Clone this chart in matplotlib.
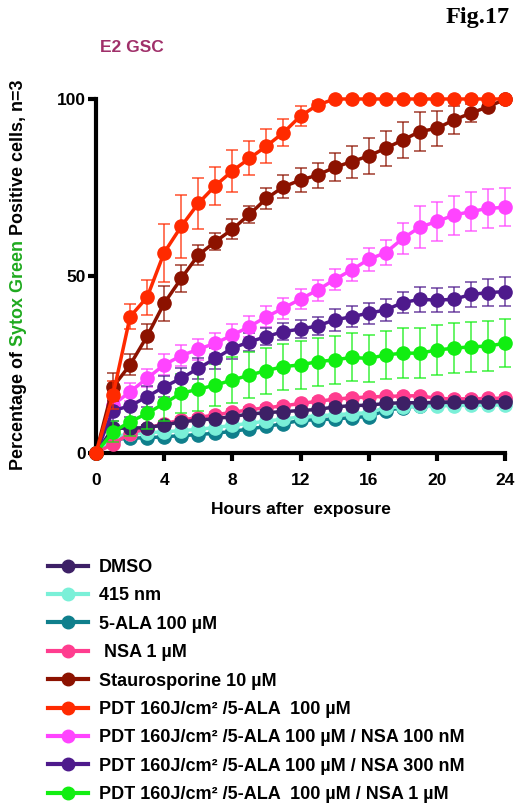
import matplotlib
matplotlib.use("Agg")
import matplotlib.pyplot as plt
from matplotlib.lines import Line2D

plt.rcParams['font.family'] = ['Liberation Sans', 'DejaVu Sans']
plt.rcParams['font.weight'] = 'bold'

hours = list(range(25))

labels = ['DMSO', '415 nm', '5-ALA 100 µM', ' NSA 1 µM', 'Staurosporine 10 µM',
          'PDT 160J/cm² /5-ALA  100 µM',
          'PDT 160J/cm² /5-ALA 100 µM / NSA 100 nM',
          'PDT 160J/cm² /5-ALA 100 µM / NSA 300 nM',
          'PDT 160J/cm² /5-ALA  100 µM / NSA 1 µM']
colors = ['#3d2066', '#7af0d8', '#0f7f8c', '#ff3d8f', '#8c1200',
          '#ff2a00', '#ff44ff', '#4e1a8c', '#11ee11']

dmso = [0, 7.0, 7.0, 7.2, 7.9, 8.8, 9.3, 9.7, 10.3, 11.0, 11.4, 11.7, 12.0,
        12.3, 13.0, 13.4, 13.5, 14.0, 14.2, 14.2, 14.3, 14.3, 14.4, 14.4, 14.5]
nm415 = [0, 4.6, 5.4, 5.7, 6.0, 6.3, 6.7, 7.2, 7.8, 8.4, 9.0, 9.6, 10.2,
         10.5, 10.8, 11.1, 11.4, 12.8, 13.0, 13.2, 13.3, 13.4, 13.5, 13.5, 13.6]
ala = [0, 3.8, 4.2, 4.3, 4.6, 4.9, 5.2, 5.6, 6.1, 6.8, 7.5, 8.3, 9.2,
       9.4, 9.6, 10.0, 10.3, 12.0, 12.8, 13.4, 14.2, 14.6, 14.8, 14.8, 14.9]
nsa = [0, 2.6, 5.5, 7.0, 8.3, 9.3, 10.0, 10.8, 11.5, 12.2, 12.8, 13.3, 14.0,
       14.6, 15.2, 15.6, 15.8, 16.0, 16.1, 16.2, 15.4, 15.3, 15.3, 15.4, 15.5]
stauro = [0, 18.7, 24.9, 33.0, 42.3, 49.3, 55.9, 59.7, 63.2, 67.4, 71.9, 75.2, 77.1,
          78.5, 80.7, 82.3, 83.9, 86.1, 88.4, 90.8, 91.7, 94.1, 96.0, 97.8, 99.9]
pdt = [0, 16.4, 38.5, 44.0, 56.6, 64.0, 70.5, 75.5, 79.7, 83.2, 86.7, 90.5, 95.2,
       98.3, 100, 100, 100, 100, 100, 100, 100, 100, 100, 100, 100]
pdt_nsa100 = [0, 13.6, 17.3, 21.1, 24.9, 27.5, 29.3, 31.0, 33.3, 35.7, 38.5, 40.9, 43.5,
              46.0, 49.0, 51.7, 54.7, 56.6, 60.6, 63.8, 65.4, 67.2, 68.2, 69.1, 69.4]
pdt_nsa300 = [0, 12.0, 13.3, 15.9, 18.7, 21.1, 23.9, 26.7, 29.6, 31.4, 32.9, 34.3, 35.0,
              35.9, 37.6, 38.5, 39.5, 40.4, 42.5, 43.4, 43.2, 43.4, 44.8, 45.3, 45.6]
pdt_nsa1 = [0, 6.0, 8.8, 11.2, 14.0, 16.9, 18.0, 19.2, 20.6, 22.0, 23.3, 24.4, 24.9,
            25.8, 26.3, 27.0, 26.7, 27.7, 28.2, 28.2, 29.1, 29.6, 30.0, 30.2, 31.0]

low_err = [0] + [0.8] * 24
stauro_err = [0, 4, 3, 3.5, 5, 3.8, 2.8, 2.4, 2.8, 2.4, 3.0, 3.2, 3.5,
              3.5, 4, 4.5, 5, 5, 5, 5.5, 5, 4, 2.5, 0.5, 0]
pdt_err = [0, 4, 3.5, 5, 8.2, 8.8, 7.3, 5.4, 5.9, 4.8, 4.7, 3.9, 2.7,
           1.2, 0, 0, 0, 0, 0, 0, 0, 0, 0, 0, 0]
nsa100_err = [0, 2, 2.5, 2.5, 3, 3, 3, 3, 3, 3, 3, 3, 2.8,
              3, 3, 3, 3.3, 3.5, 4.5, 5.9, 5.5, 5.5, 5.5, 5.5, 5.4]
nsa300_err = [0, 3, 3, 3, 3, 3, 3, 3, 3, 2.5, 2.5, 2.5, 2.5,
              2.5, 3, 3, 3, 3, 3, 3.5, 3.5, 3.5, 3.5, 3.8, 4]
nsa1_err = [0, 3, 4, 4.5, 5, 5.5, 6, 6, 6.5, 6.5, 6.5, 6.5, 6.8,
            6.8, 6.8, 6.8, 6.6, 6.8, 7, 7, 7, 7, 7, 7, 6.8]

series = [dmso, nm415, ala, nsa, stauro, pdt, pdt_nsa100, pdt_nsa300, pdt_nsa1]
errors = [low_err, low_err, low_err, low_err, stauro_err, pdt_err,
          nsa100_err, nsa300_err, nsa1_err]
zorders = [8, 6, 5, 7, 10, 11, 9, 9, 9]

fig = plt.figure(figsize=(5.15, 8.08), dpi=100)
ax = fig.add_axes([96 / 515, 1 - 453 / 808, 409 / 515, 354 / 808])

for vals, err, col, z in zip(series, errors, colors, zorders):
    eb = ax.errorbar(hours, vals, yerr=err, color=col, lw=2.5, marker='o', ms=9.5,
                     elinewidth=1.2, capsize=4.5, capthick=1.2, ecolor=col,
                     zorder=z, clip_on=False)
    for part in eb.lines[1] + eb.lines[2]:
        part.set_alpha(0.75)
        part.set_clip_on(False)

ax.set_xlim(0, 24)
ax.set_ylim(0, 100)
ax.set_xticks([0, 4, 8, 12, 16, 20, 24])
ax.set_yticks([0, 50, 100])
ax.spines['top'].set_visible(False)
ax.spines['right'].set_visible(False)
ax.spines['left'].set_linewidth(3)
ax.spines['bottom'].set_linewidth(3)
ax.tick_params(direction='out', length=5.5, width=3, labelsize=12.5)
ax.tick_params(axis='x', pad=9)
ax.tick_params(axis='y', pad=2)
for lab in ax.get_xticklabels() + ax.get_yticklabels():
    lab.set_fontweight('bold')
ax.set_xlabel('Hours after  exposure', fontsize=12.5, fontweight='bold', labelpad=10)

# multicolour y label
renderer = fig.canvas.get_renderer()
y = 1 - 470 / 808
for s, c in [('Percentage of ', 'black'), ('Sytox Green', '#1faa1f'),
             (' Positive cells, n=3', 'black')]:
    t = fig.text(19 / 515, y, s, color=c, rotation=90, ha='center', va='bottom',
                 fontsize=12.9, fontweight='bold')
    y += t.get_window_extent(renderer).height / fig.bbox.height

fig.text(100 / 515, 1 - 48 / 808, 'E2 GSC', color='#a0306a', fontsize=12.5,
         fontweight='bold', va='center', ha='left')
fig.text(510 / 515, 1 - 17 / 808, 'Fig.17', fontsize=17.5, fontweight='bold',
         family='Liberation Serif', va='center', ha='right')

handles = [Line2D([0], [0], color=c, lw=3, marker='o', ms=9) for c in colors]
fig.legend(handles, labels, loc='upper left', bbox_to_anchor=(48 / 515, 1 - 559 / 808),
           frameon=False, handlelength=2.2, handletextpad=0.6,
           labelspacing=0.63, borderpad=0, borderaxespad=0,
           prop={'weight': 'bold', 'size': 13})

fig.savefig('out.png', dpi=100)
